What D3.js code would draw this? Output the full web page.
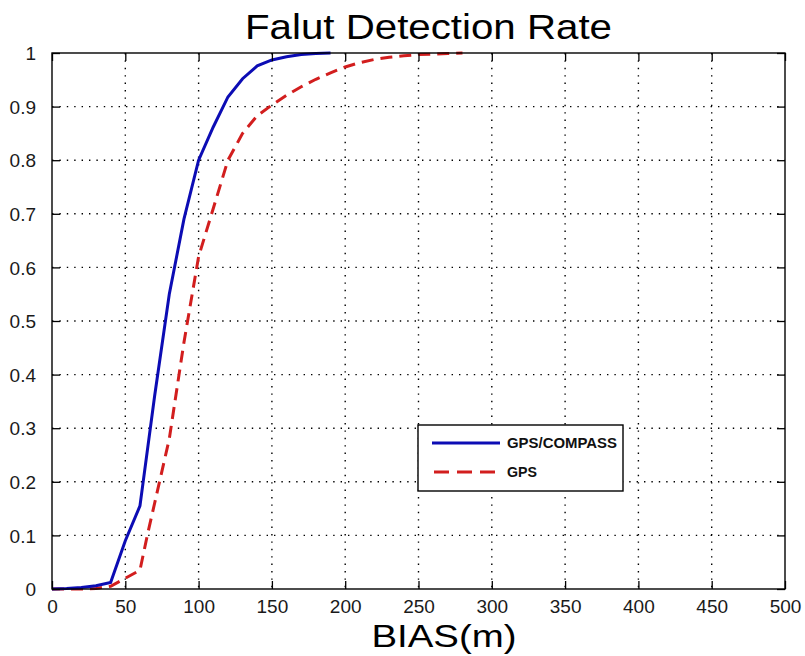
<!DOCTYPE html>
<html>
<head>
<meta charset="utf-8">
<script src="https://cdn.jsdelivr.net/npm/d3@7"></script>
<style>
  html, body { margin: 0; padding: 0; background: #ffffff; }
  svg { display: block; }
  text { font-family: "Liberation Sans", Arial, Helvetica, sans-serif; }
</style>
</head>
<body>
<svg id="chart" width="805" height="656"></svg>
<script>
// ---- data ----
const titleText = "Falut Detection Rate";
const xLabelText = "BIAS(m)";
const xTicks = [0, 50, 100, 150, 200, 250, 300, 350, 400, 450, 500];
const yTicks = [0, 0.1, 0.2, 0.3, 0.4, 0.5, 0.6, 0.7, 0.8, 0.9, 1];
const yTickLabels = ["0", "0.1", "0.2", "0.3", "0.4", "0.5", "0.6", "0.7", "0.8", "0.9", "1"];
const seriesNames = ["GPS/COMPASS", "GPS"];

const biasCompass = [0, 10, 20, 30, 40, 50, 60, 70, 80, 90, 100, 110, 120, 130, 140, 150, 160, 170, 180, 190];
const rateCompass = [0, 0.001, 0.003, 0.006, 0.012, 0.09, 0.155, 0.36, 0.55, 0.69, 0.80, 0.862, 0.918, 0.952, 0.976, 0.987, 0.993, 0.997, 0.999, 1.0];

const biasGps = [0, 10, 20, 30, 40, 50, 60, 65, 70, 80, 90, 100, 110, 120, 130, 140, 150, 160, 170, 180, 190, 200, 210, 220, 230, 240, 250, 260, 270, 280];
const rateGps = [0, 0, 0, 0.001, 0.005, 0.02, 0.035, 0.10, 0.16, 0.28, 0.46, 0.62, 0.71, 0.80, 0.85, 0.883, 0.903, 0.921, 0.937, 0.951, 0.963, 0.974, 0.982, 0.988, 0.992, 0.995, 0.997, 0.998, 0.999, 1.0];

// ---- layout ----
const svg = d3.select("#chart");
const L = 52, R = 785, T = 53, B = 589;
const x = d3.scaleLinear().domain([0, 500]).range([L, R]);
const y = d3.scaleLinear().domain([0, 1]).range([B, T]);

const gridStyle = g => g.selectAll("line")
  .attr("stroke", "#000").attr("stroke-width", 1.4)
  .attr("stroke-dasharray", "1.4 6").attr("stroke-linecap", "butt");

// grid
const grid = svg.append("g");
grid.selectAll("line.vx").data(xTicks.filter(d => d > 0 && d < 500)).enter().append("line")
  .attr("x1", d => x(d)).attr("x2", d => x(d)).attr("y1", T).attr("y2", B);
grid.selectAll("line.hy").data(yTicks.filter(d => d > 0 && d < 1)).enter().append("line")
  .attr("class", "hy")
  .attr("x1", L).attr("x2", R).attr("y1", d => y(d)).attr("y2", d => y(d));
gridStyle(grid);

// series
const line = d3.line().x(d => x(d[0])).y(d => y(d[1]));
const compassPts = biasCompass.map((b, i) => [b, rateCompass[i]]);
const gpsPts = biasGps.map((b, i) => [b, rateGps[i]]);

svg.append("path").datum(gpsPts).attr("d", line)
  .attr("fill", "none").attr("stroke", "#d21e1e").attr("stroke-width", 3)
  .attr("stroke-dasharray", "12 7");
svg.append("path").datum(compassPts).attr("d", line)
  .attr("fill", "none").attr("stroke", "#0c0cb4").attr("stroke-width", 3);

// axes (box with inward ticks on all sides)
const tickLen = 8;
const axB = svg.append("g").attr("transform", `translate(0,${B})`)
  .call(d3.axisBottom(x).tickValues(xTicks).tickSizeInner(-tickLen).tickSizeOuter(0).tickPadding(11).tickFormat(d3.format("d")));
const axT = svg.append("g").attr("transform", `translate(0,${T})`)
  .call(d3.axisTop(x).tickValues(xTicks).tickSizeInner(-tickLen).tickSizeOuter(0).tickFormat(""));
const axLft = svg.append("g").attr("transform", `translate(${L},0)`)
  .call(d3.axisLeft(y).tickValues(yTicks).tickSizeInner(-tickLen).tickSizeOuter(0).tickPadding(16)
    .tickFormat((d, i) => yTickLabels[i]));
const axRt = svg.append("g").attr("transform", `translate(${R},0)`)
  .call(d3.axisRight(y).tickValues(yTicks).tickSizeInner(-tickLen).tickSizeOuter(0).tickFormat(""));

[axB, axT, axLft, axRt].forEach(a => {
  a.select(".domain").remove();
  a.selectAll(".tick line").attr("stroke", "#000").attr("stroke-width", 1.3);
  a.selectAll(".tick text").attr("font-size", 19).attr("fill", "#1a1a1a")
    .attr("font-family", "'Liberation Sans', Arial, sans-serif");
});
axB.selectAll(".tick text").attr("dy", "0.71em");
axLft.selectAll(".tick text").attr("dy", "0.35em");

svg.append("rect").attr("x", L).attr("y", T).attr("width", R - L).attr("height", B - T)
  .attr("fill", "none").attr("stroke", "#000").attr("stroke-width", 1.4);

// title and label
svg.append("text").attr("x", 428.5).attr("y", 39).attr("text-anchor", "middle")
  .attr("font-size", 35).attr("fill", "#000")
  .attr("textLength", 367).attr("lengthAdjust", "spacingAndGlyphs").text(titleText);
svg.append("text").attr("x", 444).attr("y", 646.5).attr("text-anchor", "middle")
  .attr("font-size", 31).attr("fill", "#000")
  .attr("textLength", 145).attr("lengthAdjust", "spacingAndGlyphs").text(xLabelText);

// legend
const lg = svg.append("g");
lg.append("rect").attr("x", 418).attr("y", 425).attr("width", 205).attr("height", 66)
  .attr("fill", "#fff").attr("stroke", "#000").attr("stroke-width", 1.4);
const legendRows = [
  { name: seriesNames[0], color: "#0c0cb4", dash: null, yy: 443, tl: 110 },
  { name: seriesNames[1], color: "#d21e1e", dash: "15 8", yy: 472, tl: 30 }
];
legendRows.forEach(r => {
  lg.append("line").attr("x1", 432).attr("x2", 500).attr("y1", r.yy).attr("y2", r.yy)
    .attr("stroke", r.color).attr("stroke-width", 3)
    .attr("stroke-dasharray", r.dash ? r.dash : null)
    .attr("stroke-dashoffset", r.dash ? -2 : null);
  lg.append("text").attr("x", 507).attr("y", r.yy).attr("dy", "0.36em")
    .attr("font-size", 14.5).attr("font-weight", "bold").attr("fill", "#111")
    .attr("textLength", r.tl).attr("lengthAdjust", "spacingAndGlyphs").text(r.name);
});
</script>
</body>
</html>
